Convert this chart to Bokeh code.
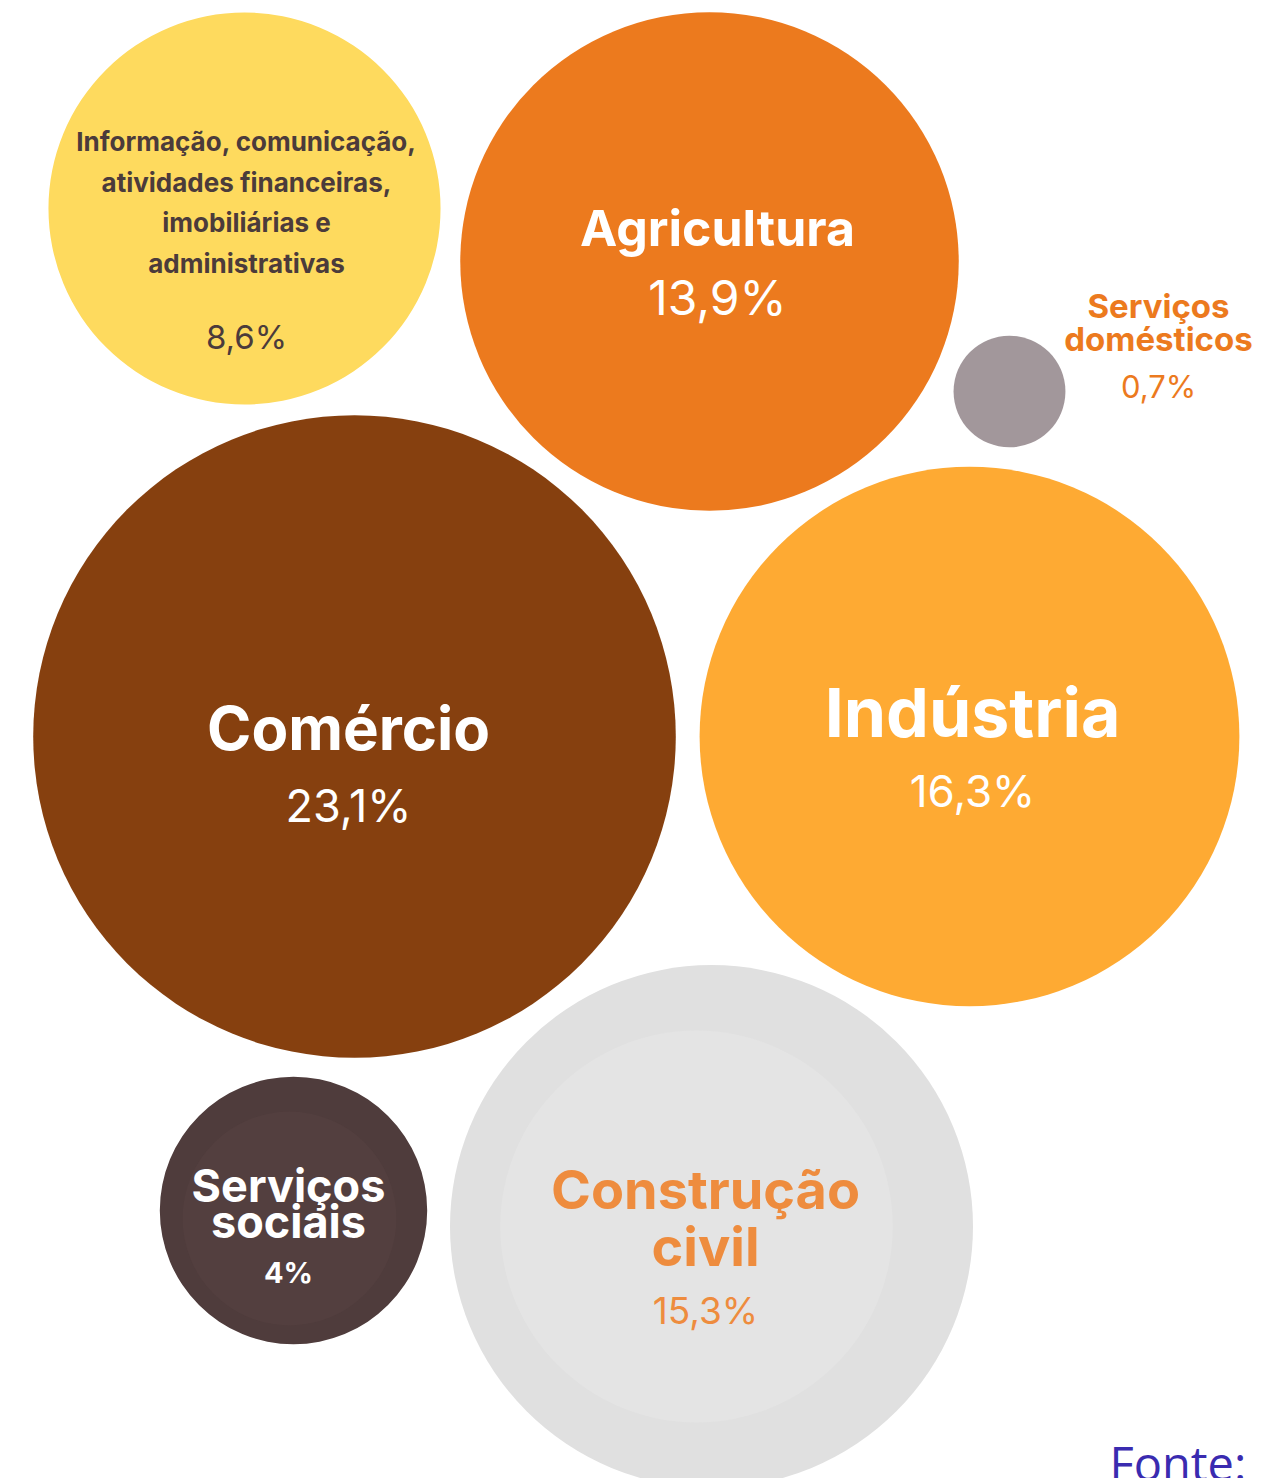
import math
from bokeh.plotting import figure
from bokeh.models import ColumnDataSource, Range1d
from bokeh.core.properties import value
from bokeh.embed import file_html
from bokeh.resources import INLINE

# ---- data ----
categories = [
    "Informação, comunicação, atividades financeiras, imobiliárias e administrativas",
    "Agricultura",
    "Serviços domésticos",
    "Comércio",
    "Indústria",
    "Construção civil",
    "Serviços sociais",
]
shares = [8.6, 13.9, 0.7, 23.1, 16.3, 15.3, 4.0]
share_labels = ["8,6%", "13,9%", "0,7%", "23,1%", "16,3%", "15,3%", "4%"]
label_lines = [
    ["Informação, comunicação,", "atividades financeiras,", "imobiliárias e", "administrativas"],
    ["Agricultura"],
    ["Serviços", "domésticos"],
    ["Comércio"],
    ["Indústria"],
    ["Construção", "civil"],
    ["Serviços", "sociais"],
]
source_text = "Fonte:"

# ---- layout / style ----
W, H = 1267, 1478
cx = [244, 709, 1009, 354, 969, 711, 293]
cy = [208, 261, 391, 736, 736, 1226, 1210]
fill = ["#FEDA5E", "#EC7A1E", "#A2979B", "#86400F", "#FEAA33", "#E0E0E0", "#4F3C3C"]
RADIUS_K = 66.85  # px per sqrt(percentage point)

name_x = [246, 717, 1158, 348, 972, 705, 288]
name_y0 = [150, 244, 317, 748, 735, 1207, 1200]
name_step = [40.5, 0, 33, 0, 0, 57, 36]
name_size = [26, 50, 33, 60, 68, 54, 45]
name_color = ["#4B3B3B", "#FFFFFF", "#EC7A1E", "#FFFFFF", "#FFFFFF", "#EE8C3E", "#FFFFFF"]
val_y = [348, 313, 397, 820, 805, 1323, 1282]
val_size = [33, 48, 31, 45, 44, 37, 29]
val_weight = ["normal", "normal", "normal", "normal", "normal", "normal", "bold"]
BASE_SHIFT = 0.34  # renderer baseline correction, fraction of font size

p = figure(width=W, height=H, output_backend="svg", toolbar_location=None,
           x_range=Range1d(0, W), y_range=Range1d(H, 0),
           min_border=0, background_fill_color="white", border_fill_color="white")
p.axis.visible = False
p.grid.visible = False
p.outline_line_color = None

radii = [RADIUS_K * math.sqrt(s) for s in shares]
p.circle(x="x", y="y", radius="r", fill_color="c", line_color=None,
         source=ColumnDataSource(dict(x=cx, y=cy, r=radii, c=fill)))

# subtle inner discs (decorative)
ci = categories.index("Construção civil")
si = categories.index("Serviços sociais")
p.circle(x=[696, 289], y=[1226, 1218],
         radius=[radii[ci] * 0.75, radii[si] * 0.8],
         fill_color=["#E4E4E4", "#533F3F"], line_color=None)

FONT = "Inter"
for i in range(len(categories)):
    lines = label_lines[i]
    sh = BASE_SHIFT * name_size[i]
    ys = [name_y0[i] + k * name_step[i] - sh for k in range(len(lines))]
    p.text(x=[name_x[i]] * len(lines), y=ys, text=lines,
           text_font=value(FONT), text_font_style="bold",
           text_font_size=f"{name_size[i]}px", text_color=name_color[i],
           text_align="center", text_baseline="alphabetic")
    p.text(x=[name_x[i]], y=[val_y[i] - BASE_SHIFT * val_size[i]], text=[share_labels[i]],
           text_font=value(FONT), text_font_style=val_weight[i],
           text_font_size=f"{val_size[i]}px", text_color=name_color[i],
           text_align="center", text_baseline="alphabetic")

p.text(x=[1109], y=[1478 - BASE_SHIFT * 47], text=[source_text], text_font=value("Open Sans"),
       text_font_size="47px", text_color="#3A2BB0",
       text_align="left", text_baseline="alphabetic")

open("out.html", "w").write(file_html(p, INLINE))
